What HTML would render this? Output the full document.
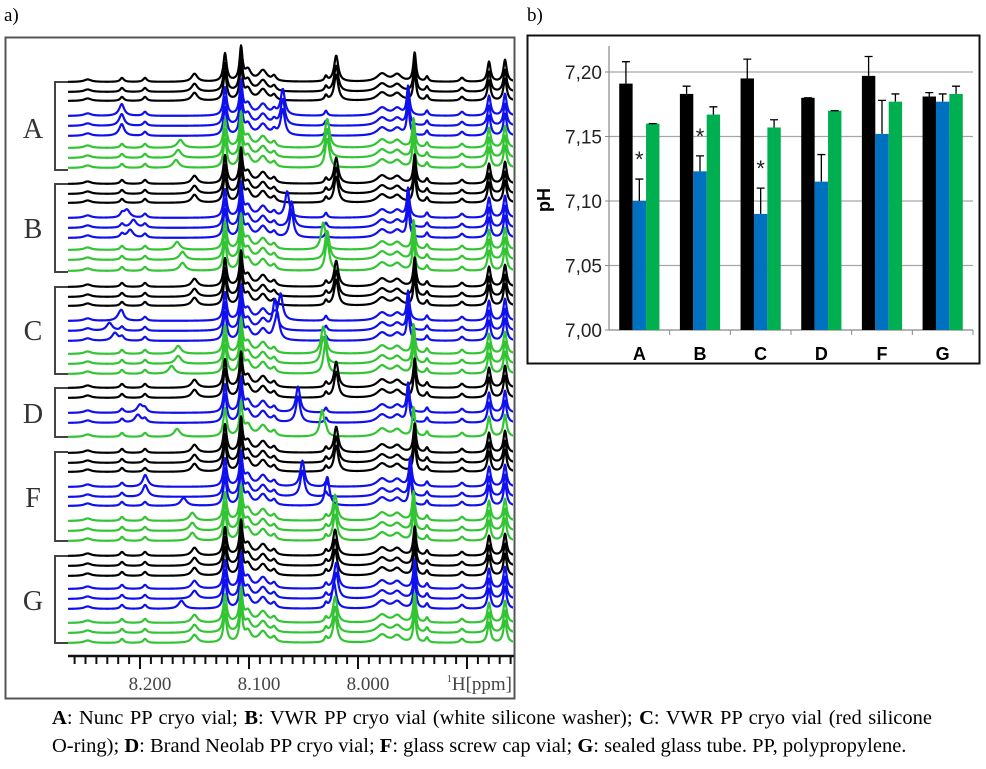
<!DOCTYPE html>
<html><head><meta charset="utf-8">
<style>
body{margin:0;background:#fff;width:986px;height:769px;overflow:hidden;position:relative;font-family:"Liberation Serif",serif;}
#cap{position:absolute;left:52px;top:704px;width:880px;font-size:20.5px;line-height:28px;color:#000;}
#cap .l1{text-align:justify;text-align-last:justify;white-space:nowrap;}
#cap .l2{white-space:nowrap;}
</style></head><body>
<svg id="fig" width="986" height="769" style="position:absolute;left:0;top:0">
<text x="4" y="21" font-family="Liberation Serif,serif" font-size="19">a)</text>
<text x="527" y="21" font-family="Liberation Serif,serif" font-size="19">b)</text>
<rect x="5.5" y="37.5" width="509" height="661" fill="none" stroke="#555" stroke-width="2"/>
<g id="spec"></g>
<rect x="527.5" y="35.5" width="452" height="328" fill="none" stroke="#111" stroke-width="2"/>
<g id="bars"></g>
</svg>
<div id="cap"><div class="l1"><b>A</b>: Nunc PP cryo vial; <b>B</b>: VWR PP cryo vial (white silicone washer); <b>C</b>: VWR PP cryo vial (red silicone</div><div class="l2"><span id="l2s">O-ring); <b>D</b>: Brand Neolab PP cryo vial; <b>F</b>: glass screw cap vial; <b>G</b>: sealed glass tube. PP, polypropylene.</span></div></div>
<script>
// ---------- NMR spectra data ----------
const groupNames=["A","B","C","D","F","G"];
const groupTop=[82,184,287,388,452,556];
const groupBottom=[170,272,374,437,541,643];
const groupLabelY=[128,228,330,413,497,600];
const lineGroup=[0,0,0,0,0,0,0,0,0, 1,1,1,1,1,1,1,1,1, 2,2,2,2,2,2,2,2,2, 3,3,3,3,3, 4,4,4,4,4,4,4,4,4, 5,5,5,5,5,5,5,5,5];
const lineColor=["k","k","k","b","b","b","g","g","g", "k","k","k","b","b","b","g","g","g", "k","k","k","b","b","b","g","g","g", "k","k","b","b","g", "k","k","k","b","b","b","g","g","g", "k","k","k","b","b","b","g","g","g"];
const lineBase=[82,92,101,116,126,136,148,158,168, 184,194,203,218,228,238,250,260,271, 287,297,306,321,331,341,354,364,374, 388,398,413,423,437, 453,463,472,487,497,506,521,531,541, 556,566,576,589,599,609,623,633,643];
const shiftP1=[8.150,8.150,8.150,8.217,8.217,8.217,8.163,8.165,8.167, 8.150,8.150,8.150,8.212,8.206,8.209,8.166,8.161,8.161, 8.150,8.150,8.150,8.218,8.228,8.223,8.165,8.165,8.171, 8.150,8.150,8.200,8.202,8.166, 8.150,8.150,8.150,8.195,8.195,8.160,8.152,8.152,8.152, 8.150,8.150,8.150,8.150,8.150,8.162,8.150,8.150,8.150];
const shiftP2=[8.020,8.020,8.020,8.069,8.069,8.069,8.028,8.028,8.028, 8.020,8.020,8.020,8.065,8.061,8.061,8.032,8.028,8.028, 8.020,8.020,8.020,8.071,8.076,8.074,8.032,8.032,8.030, 8.020,8.020,8.055,8.055,8.033, 8.020,8.020,8.020,8.051,8.051,8.028,8.021,8.021,8.021, 8.021,8.021,8.021,8.020,8.020,8.022,8.021,8.021,8.021];
const shiftP3=[7.948,7.948,7.948,7.954,7.954,7.954,7.949,7.949,7.949, 7.948,7.948,7.948,7.954,7.954,7.954,7.949,7.949,7.949, 7.948,7.948,7.948,7.954,7.954,7.954,7.949,7.949,7.949, 7.948,7.948,7.954,7.954,7.949, 7.948,7.948,7.948,7.952,7.952,7.952,7.949,7.949,7.949, 7.948,7.948,7.948,7.948,7.948,7.948,7.948,7.948,7.948];
const fixedPpm=[8.248,8.2165,8.1954,8.122,8.1073,8.101,8.0872,8.077,8.0294,7.978,7.964,7.9367,7.9046,7.8798,7.8651];
const fixedHeight=[2.5,4,4,28,33,11,11,5,5,8,7,5,4,20,22];
const fixedWidth=[.004,.002,.002,.0018,.0016,.0035,.0045,.0022,.0015,.0055,.0045,.0015,.0022,.0018,.0018];
const axisTicks=[8.2,8.1,8.0];
const axisTickLabels=["8.200","8.100","8.000"];

const NS="http://www.w3.org/2000/svg";
function mk(tag,attrs,parent){const e=document.createElementNS(NS,tag);for(const k in attrs)e.setAttribute(k,attrs[k]);parent.appendChild(e);return e;}
const X=p=>140+(8.2-p)*1090;
const colMap={k:"#000",b:"#1010ee",g:"#33c433"};
const spec=document.getElementById("spec");
const defs=mk("defs",{},spec);
const cp=mk("clipPath",{id:"clipL"},defs);
mk("rect",{x:6,y:38,width:507,height:610},cp);
const lg=mk("g",{"clip-path":"url(#clipL)"},spec);
function lor(x,x0,h,w){const d=(x-x0)/w;return h/(1+d*d);}
lineBase.forEach((b,i)=>{
  let d="";
  for(let px=68;px<=516;px+=0.5){
    const p=8.2-(px-140)/1090;
    let y=0;
    for(let j=0;j<fixedPpm.length;j++)y+=lor(p,fixedPpm[j],fixedHeight[j],fixedWidth[j]);
    y+=lor(p,shiftP1[i],8,.0032);
    y+=lor(p,shiftP2[i],26,.0023);
    y+=lor(p,shiftP3[i],29,.0015);
    d+=(px===68?"M":"L")+px+","+(b-y).toFixed(2);
  }
  const el=mk("path",{d:d,fill:"none",stroke:colMap[lineColor[i]],"stroke-width":2.2,"stroke-linejoin":"round"},lg);
  
  
});
groupNames.forEach((n,g)=>{
  const br=mk("path",{d:`M68,${groupTop[g]}H55V${groupBottom[g]}H68`,fill:"none",stroke:"#444","stroke-width":2},spec);
  
  
  const t=mk("text",{x:33,y:groupLabelY[g]+10,"font-size":28,"font-family":"Liberation Serif,serif","text-anchor":"middle",fill:"#333"},spec);
  t.textContent=n;
  
  
});
const ax=mk("line",{x1:68,y1:656,x2:514,y2:656,stroke:"#111","stroke-width":2.5},spec);


for(let k=0;k<=41;k++){
  const p=8.27-k*0.01;const x=X(p);if(x<68||x>514)continue;
  const major=Math.abs((p*100)-Math.round(p*10)*10)<0.01;
  const tk=mk("line",{x1:x,y1:656,x2:x,y2:major?669:664,stroke:"#111","stroke-width":2},spec);
  
  
}
axisTicks.forEach((p,i)=>{
  const t=mk("text",{x:X(p)+10,y:690,"font-size":19,"font-family":"Liberation Serif,serif","text-anchor":"middle",fill:"#444"},spec);
  t.textContent=axisTickLabels[i];
  
  
});
const ut=mk("text",{x:512,y:690,"font-size":19,"font-family":"Liberation Serif,serif","text-anchor":"end",fill:"#444"},spec);
ut.innerHTML='<tspan font-size="10" dy="-8">1</tspan><tspan dy="8">H[ppm]</tspan>';



// ---------- Bar chart data ----------
const categories=["A","B","C","D","F","G"];
const seriesBlack=[7.191,7.183,7.195,7.180,7.197,7.181];
const errBlack=[0.017,0.006,0.015,0,0.015,0.003];
const seriesBlue=[7.100,7.123,7.090,7.115,7.152,7.177];
const errBlue=[0.017,0.012,0.020,0.021,0.026,0.006];
const seriesGreen=[7.160,7.167,7.157,7.170,7.177,7.183];
const errGreen=[0,0.006,0.006,0,0.006,0.006];
const yTicks=[7.00,7.05,7.10,7.15,7.20];
const yTickLabels=["7,00","7,05","7,10","7,15","7,20"];
const starred=[true,true,true,false,false,false];

const bg=document.getElementById("bars");
const Y=v=>330-(v-7.0)*(330-72)/0.2;
const X0=609,X1=973,gw=(X1-X0)/categories.length,bw=13.4;
yTicks.forEach((v,i)=>{
  if(i>0){const gl=mk("line",{x1:X0,y1:Y(v),x2:X1,y2:Y(v),stroke:"#a6a6a6","stroke-width":1.2},bg);
  }
  const tk=mk("line",{x1:X0-4,y1:Y(v),x2:X0,y2:Y(v),stroke:"#888"},bg);
  
  const t=mk("text",{x:602,y:Y(v)+7,"font-size":19,"font-family":"Liberation Sans,sans-serif","text-anchor":"end",fill:"#222"},bg);
  t.textContent=yTickLabels[i];
  
});
const ya=mk("line",{x1:X0,y1:46,x2:X0,y2:330,stroke:"#888","stroke-width":1.2},bg);

const xa=mk("line",{x1:X0,y1:330,x2:X1,y2:330,stroke:"#888","stroke-width":1.2},bg);

const yt=mk("text",{x:0,y:0,"font-size":18,"font-weight":"bold","font-family":"Liberation Sans,sans-serif","text-anchor":"middle",transform:"translate(550,200) rotate(-90)"},bg);
yt.textContent="pH";

const ser=[[seriesBlack,errBlack,"#000","black"],[seriesBlue,errBlue,"#0070c0","blue"],[seriesGreen,errGreen,"#00b050","green"]];
categories.forEach((c,i)=>{
  const cx=X0+gw*(i+0.5);
  const xt=mk("line",{x1:X0+gw*(i+1),y1:330,x2:X0+gw*(i+1),y2:335,stroke:"#888"},bg);
  
  ser.forEach((s,k)=>{
    const v=s[0][i],e=s[1][i];
    const x=cx-1.5*bw+k*bw;
    const r=mk("rect",{x:x,y:Y(v),width:bw,height:330-Y(v),fill:s[2]},bg);
    
    const ex=x+bw/2;
    const eb=mk("path",{d:`M${ex},${Y(v)}V${Y(v+e)}M${ex-4},${Y(v+e)}H${ex+4}`,stroke:"#000","stroke-width":1.3,fill:"none"},bg);
    
  });
  if(starred[i]){
    const st=mk("text",{x:cx,y:Y(seriesBlue[i]+errBlue[i])-12,"font-size":22,"font-family":"Liberation Sans,sans-serif","text-anchor":"middle",fill:"#222"},bg);
    st.textContent="*";
    
  }
  const t=mk("text",{x:cx,y:360,"font-size":18,"font-weight":"bold","font-family":"Liberation Sans,sans-serif","text-anchor":"middle"},bg);
  t.textContent=c;
  
});
</script>
</body></html>
